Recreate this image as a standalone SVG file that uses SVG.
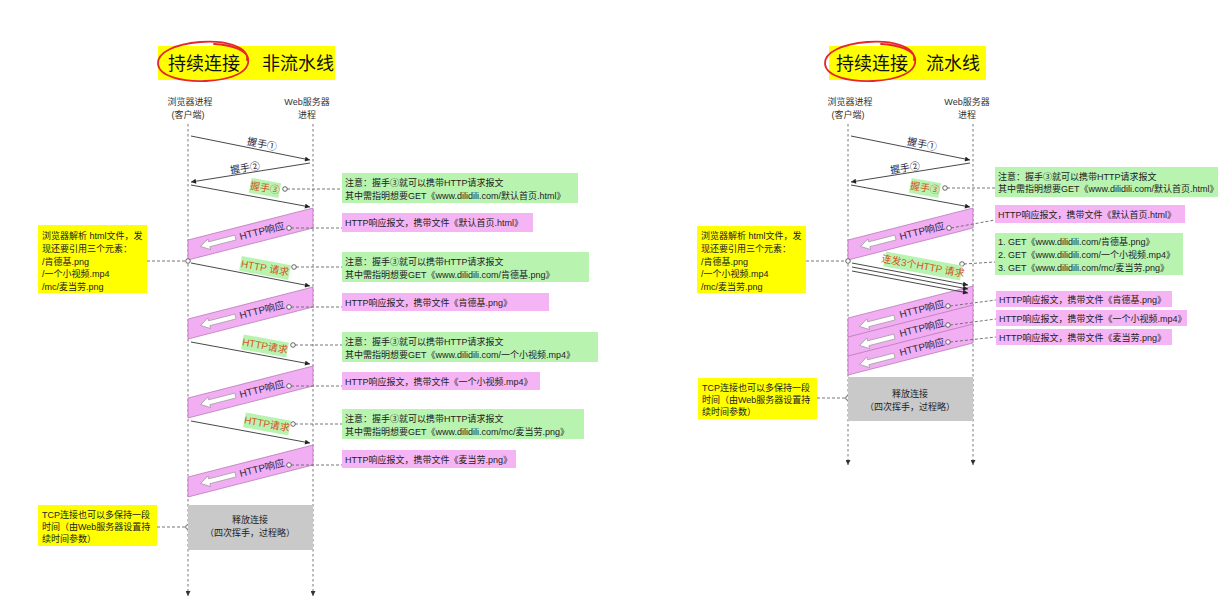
<svg xmlns="http://www.w3.org/2000/svg" width="1218" height="612" viewBox="0 0 1218 612">
<defs>
<style>
.t{font-family:"Liberation Sans","Noto Sans CJK SC",sans-serif;font-size:9px;fill:#222}
.cjk{font-family:"Noto Sans CJK SC",sans-serif}
.title{font-size:18px;fill:#111}
.hdr{font-size:9px;fill:#333;text-anchor:middle}
.lbl{font-size:10px;fill:#2a2a48;text-anchor:middle}
.req{font-size:10px;fill:#d4541c;text-anchor:middle}
.mid{text-anchor:middle}
.life{stroke:#777;stroke-width:1;stroke-dasharray:2.5,2.5;fill:none;marker-end:url(#lah)}
.msg{stroke:#333;stroke-width:0.9;fill:none;marker-end:url(#ah)}
.conn{stroke:#666;stroke-width:0.9;stroke-dasharray:3,2;fill:none}
.dot{fill:#fff;stroke:#555;stroke-width:0.9}
.band{fill:#f2aef2;stroke:#b070b0;stroke-width:0.7}
.gbg{fill:#b8f4b0}
.pbg{fill:#f5b5f5}
.ybg{fill:#ffff00}
.gray{fill:#c9c9c9}
.wa{fill:#fff;stroke:#999;stroke-width:0.7}
.ring{fill:none;stroke:#e5262a;stroke-width:1.8;stroke-linecap:round}
</style>
<marker id="ah" viewBox="0 0 10 10" refX="10" refY="5" markerWidth="7" markerHeight="5" markerUnits="userSpaceOnUse" orient="auto"><path d="M0,0 L10,5 L0,10 Z" fill="#222"/></marker>
<marker id="lah" viewBox="0 0 10 10" refX="10" refY="5" markerWidth="6" markerHeight="5" markerUnits="userSpaceOnUse" orient="auto"><path d="M0,0 L10,5 L0,10 Z" fill="#333"/></marker>
<path id="warrow" d="M-18,0 L-9,-5.5 L-9,-2.5 L18,-2.5 L18,2.5 L-9,2.5 L-9,5.5 Z"/>
</defs>

<!-- ================= LEFT: 持续连接 非流水线 ================= -->
<g id="left-title">
<rect class="ybg" x="158" y="46" width="177" height="34"/>
<text class="t title" x="168" y="70">持续连接</text>
<text class="t title" x="262" y="70">非流水线</text>
<path class="ring" d="M247,60 C249,46 224,40 200,42 C176,44 157,52 158,64 C159,76 181,82 206,81 C229,80 251,73 248,58 C246,50 232,45 214,44"/>
</g>
<g id="left-client-header"><text class="t hdr" x="190" y="105">浏览器进程</text><text class="t hdr" x="188" y="118">(客户端)</text></g>
<g id="left-server-header"><text class="t hdr" x="307" y="105">Web服务器</text><text class="t hdr" x="307" y="118">进程</text></g>

<g id="left-lifelines">
<line class="life" x1="188" y1="124" x2="188" y2="596"/>
<line class="life" x1="313" y1="124" x2="313" y2="596"/>
</g>

<g id="left-bands">
<polygon class="band" points="188,240 313,208 313,228 188,260"/>
<polygon class="band" points="188,319 313,287 313,307 188,339"/>
<polygon class="band" points="188,398 313,366 313,386 188,418"/>
<polygon class="band" points="188,477 313,445 313,465 188,497"/>
<use href="#warrow" class="wa" transform="translate(218,242) rotate(-14.4)"/>
<use href="#warrow" class="wa" transform="translate(218,321) rotate(-14.4)"/>
<use href="#warrow" class="wa" transform="translate(218,400) rotate(-14.4)"/>
<use href="#warrow" class="wa" transform="translate(218,479) rotate(-14.4)"/>
<text class="t lbl" transform="translate(262,231) rotate(-14.4)" dy="3.5">HTTP响应</text>
<text class="t lbl" transform="translate(262,310) rotate(-14.4)" dy="3.5">HTTP响应</text>
<text class="t lbl" transform="translate(262,389) rotate(-14.4)" dy="3.5">HTTP响应</text>
<text class="t lbl" transform="translate(262,468) rotate(-14.4)" dy="3.5">HTTP响应</text>
</g>

<g id="left-connectors">
<line class="msg" x1="191" y1="136" x2="310" y2="160"/>
<line class="msg" x1="310" y1="163" x2="191" y2="182"/>
<line class="msg" x1="191" y1="185" x2="310" y2="207"/>
<line class="msg" x1="191" y1="263" x2="310" y2="286"/>
<line class="msg" x1="191" y1="342" x2="310" y2="364"/>
<line class="msg" x1="191" y1="421" x2="310" y2="443"/>
<line class="conn" x1="147" y1="261" x2="186" y2="261"/>
<line class="conn" x1="157" y1="527" x2="186" y2="527"/>
<line class="conn" x1="287" y1="189" x2="342" y2="189"/>
<line class="conn" x1="291" y1="228" x2="342" y2="228"/>
<line class="conn" x1="296" y1="267" x2="342" y2="267"/>
<line class="conn" x1="291" y1="307" x2="342" y2="307"/>
<line class="conn" x1="295" y1="345" x2="342" y2="345"/>
<line class="conn" x1="291" y1="386" x2="342" y2="386"/>
<line class="conn" x1="295" y1="424" x2="342" y2="424"/>
<line class="conn" x1="291" y1="465" x2="342" y2="465"/>
<circle class="dot" cx="188" cy="261" r="2.3"/>
<circle class="dot" cx="188" cy="527" r="2.3"/>
<circle class="dot" cx="285" cy="189" r="2.3"/>
<circle class="dot" cx="289" cy="228" r="2.3"/>
<circle class="dot" cx="294" cy="267" r="2.3"/>
<circle class="dot" cx="289" cy="307" r="2.3"/>
<circle class="dot" cx="293" cy="345" r="2.3"/>
<circle class="dot" cx="289" cy="386" r="2.3"/>
<circle class="dot" cx="293" cy="424" r="2.3"/>
<circle class="dot" cx="289" cy="465" r="2.3"/>
</g>

<g id="left-msg-labels">
<text class="t lbl cjk" transform="translate(262,144) rotate(11.5)" dy="3.5">握手①</text>
<text class="t lbl cjk" transform="translate(245,168) rotate(-9)" dy="3.5">握手②</text>
<g transform="translate(265,188) rotate(10.5)"><rect class="gbg" x="-15" y="-7.5" width="30" height="15"/><text class="t req cjk" dy="3.5">握手③</text></g>
<g transform="translate(265,268) rotate(10.5)"><rect class="gbg" x="-25" y="-7.5" width="50" height="15"/><text class="t req" dy="3.5">HTTP 请求</text></g>
<g transform="translate(265,346) rotate(10.5)"><rect class="gbg" x="-23" y="-7.5" width="46" height="15"/><text class="t req" dy="3.5">HTTP请求</text></g>
<g transform="translate(267,424) rotate(10.5)"><rect class="gbg" x="-23" y="-7.5" width="46" height="15"/><text class="t req" dy="3.5">HTTP请求</text></g>
</g>

<g id="left-note-parse">
<rect class="ybg" x="38" y="225" width="109" height="68"/>
<text class="t" x="42" y="239">浏览器解析 html文件，发</text>
<text class="t" x="42" y="252">现还要引用三个元素：</text>
<text class="t" x="42" y="265">/肯德基.png</text>
<text class="t" x="42" y="277">/一个小视频.mp4</text>
<text class="t" x="42" y="290">/mc/麦当劳.png</text>
</g>
<g id="left-note-tcp">
<rect class="ybg" x="38" y="505" width="119" height="41"/>
<text class="t" x="42" y="518">TCP连接也可以多保持一段</text>
<text class="t" x="42" y="530">时间（由Web服务器设置持</text>
<text class="t" x="42" y="542">续时间参数）</text>
</g>
<g id="left-release">
<rect class="gray" x="188" y="505" width="125" height="45"/>
<text class="t mid" x="250" y="523">释放连接</text>
<text class="t mid" x="250" y="536">（四次挥手，过程略）</text>
</g>

<g id="left-note1"><rect class="gbg" x="342" y="173" width="236" height="30"/>
<text class="t" x="345" y="186">注意：握手<tspan class="cjk">③</tspan>就可以携带HTTP请求报文</text>
<text class="t" x="345" y="199">其中需指明想要GET《www.dilidili.com/默认首页.html》</text></g>
<g id="left-note2"><rect class="pbg" x="342" y="213" width="191" height="19"/>
<text class="t" x="345" y="226">HTTP响应报文，携带文件《默认首页.html》</text></g>
<g id="left-note3"><rect class="gbg" x="342" y="252" width="247" height="30"/>
<text class="t" x="345" y="265">注意：握手<tspan class="cjk">③</tspan>就可以携带HTTP请求报文</text>
<text class="t" x="345" y="278">其中需指明想要GET《www.dilidili.com/肯德基.png》</text></g>
<g id="left-note4"><rect class="pbg" x="342" y="293" width="207" height="18"/>
<text class="t" x="345" y="305.5">HTTP响应报文，携带文件《肯德基.png》</text></g>
<g id="left-note5"><rect class="gbg" x="342" y="332" width="256" height="30"/>
<text class="t" x="345" y="345">注意：握手<tspan class="cjk">③</tspan>就可以携带HTTP请求报文</text>
<text class="t" x="345" y="358">其中需指明想要GET《www.dilidili.com/一个小视频.mp4》</text></g>
<g id="left-note6"><rect class="pbg" x="342" y="372" width="198" height="18"/>
<text class="t" x="345" y="384.5">HTTP响应报文，携带文件《一个小视频.mp4》</text></g>
<g id="left-note7"><rect class="gbg" x="342" y="409" width="242" height="30"/>
<text class="t" x="345" y="422">注意：握手<tspan class="cjk">③</tspan>就可以携带HTTP请求报文</text>
<text class="t" x="345" y="435">其中需指明想要GET《www.dilidili.com/mc/麦当劳.png》</text></g>
<g id="left-note8"><rect class="pbg" x="342" y="450" width="174" height="18"/>
<text class="t" x="345" y="462.5">HTTP响应报文，携带文件《麦当劳.png》</text></g>

<!-- ================= RIGHT: 持续连接 流水线 ================= -->
<g id="right-title">
<rect class="ybg" x="829" y="46" width="157" height="34"/>
<text class="t title" x="836" y="70">持续连接</text>
<text class="t title" x="926" y="70">流水线</text>
<path class="ring" d="M914,60 C916,46 891,40 867,42 C843,44 824,52 825,64 C826,76 848,82 873,81 C896,80 918,73 915,58 C913,50 899,45 881,44"/>
</g>
<g id="right-client-header"><text class="t hdr" x="850" y="105">浏览器进程</text><text class="t hdr" x="848" y="118">(客户端)</text></g>
<g id="right-server-header"><text class="t hdr" x="967" y="105">Web服务器</text><text class="t hdr" x="967" y="118">进程</text></g>

<g id="right-lifelines">
<line class="life" x1="848" y1="124" x2="848" y2="465"/>
<line class="life" x1="973" y1="124" x2="973" y2="465"/>
</g>

<g id="right-bands">
<polygon class="band" points="848,240 973,208 973,228 848,260"/>
<use href="#warrow" class="wa" transform="translate(878,242) rotate(-14.4)"/>
<text class="t lbl" transform="translate(922,231) rotate(-14.4)" dy="3.5">HTTP响应</text>
<polygon class="band" points="848,318 973,286 973,343 848,375"/>
<line stroke="#b070b0" stroke-width="0.7" x1="848" y1="337" x2="973" y2="305"/>
<line stroke="#b070b0" stroke-width="0.7" x1="848" y1="356" x2="973" y2="324"/>
<use href="#warrow" class="wa" transform="translate(877,322) rotate(-14.4)"/>
<use href="#warrow" class="wa" transform="translate(877,341) rotate(-14.4)"/>
<use href="#warrow" class="wa" transform="translate(877,360) rotate(-14.4)"/>
<text class="t lbl" transform="translate(922,309) rotate(-14.4)" dy="3.5">HTTP响应</text>
<text class="t lbl" transform="translate(922,328) rotate(-14.4)" dy="3.5">HTTP响应</text>
<text class="t lbl" transform="translate(922,347) rotate(-14.4)" dy="3.5">HTTP响应</text>
</g>

<g id="right-connectors">
<line class="msg" x1="851" y1="136" x2="970" y2="160"/>
<line class="msg" x1="970" y1="163" x2="851" y2="182"/>
<line class="msg" x1="851" y1="185" x2="970" y2="207"/>
<line class="msg" x1="852" y1="263" x2="968" y2="285"/>
<line class="msg" x1="852" y1="267" x2="968" y2="289"/>
<line class="msg" x1="852" y1="271" x2="968" y2="293"/>
<line class="conn" x1="806" y1="261" x2="846" y2="261"/>
<line class="conn" x1="817" y1="398" x2="846" y2="398"/>
<line class="conn" x1="947" y1="188" x2="995" y2="188"/>
<line class="conn" x1="951" y1="228" x2="995" y2="220"/>
<line class="conn" x1="964" y1="264" x2="995" y2="262"/>
<line class="conn" x1="950" y1="306" x2="996" y2="300"/>
<line class="conn" x1="950" y1="325" x2="996" y2="319"/>
<line class="conn" x1="950" y1="342" x2="996" y2="337"/>
<circle class="dot" cx="848" cy="261" r="2.3"/>
<circle class="dot" cx="848" cy="398" r="2.3"/>
<circle class="dot" cx="945" cy="188" r="2.3"/>
<circle class="dot" cx="949" cy="228" r="2.3"/>
<circle class="dot" cx="962" cy="264" r="2.3"/>
<circle class="dot" cx="948" cy="306" r="2.3"/>
<circle class="dot" cx="948" cy="325" r="2.3"/>
<circle class="dot" cx="948" cy="342" r="2.3"/>
</g>

<g id="right-msg-labels">
<text class="t lbl cjk" transform="translate(922,144) rotate(11.5)" dy="3.5">握手①</text>
<text class="t lbl cjk" transform="translate(905,168) rotate(-9)" dy="3.5">握手②</text>
<g transform="translate(925,188) rotate(10.5)"><rect class="gbg" x="-15" y="-7.5" width="30" height="15"/><text class="t req cjk" dy="3.5">握手③</text></g>
<g transform="translate(923,266) rotate(10.5)"><rect class="gbg" x="-39" y="-7.5" width="78" height="15"/><text class="t req" dy="3.5">连发3个HTTP 请求</text></g>
</g>

<g id="right-note-parse">
<rect class="ybg" x="697" y="226" width="109" height="67"/>
<text class="t" x="701" y="239">浏览器解析 html文件，发</text>
<text class="t" x="701" y="252">现还要引用三个元素：</text>
<text class="t" x="701" y="265">/肯德基.png</text>
<text class="t" x="701" y="277">/一个小视频.mp4</text>
<text class="t" x="701" y="290">/mc/麦当劳.png</text>
</g>
<g id="right-note-tcp">
<rect class="ybg" x="698" y="378" width="119" height="41"/>
<text class="t" x="702" y="391">TCP连接也可以多保持一段</text>
<text class="t" x="702" y="403">时间（由Web服务器设置持</text>
<text class="t" x="702" y="415">续时间参数）</text>
</g>
<g id="right-release">
<rect class="gray" x="848" y="377" width="125" height="44"/>
<text class="t mid" x="910" y="397">释放连接</text>
<text class="t mid" x="910" y="410">（四次挥手，过程略）</text>
</g>

<g id="right-note1"><rect class="gbg" x="995" y="167" width="236" height="30"/>
<text class="t" x="998" y="179.5">注意：握手<tspan class="cjk">③</tspan>就可以携带HTTP请求报文</text>
<text class="t" x="998" y="192">其中需指明想要GET《www.dilidili.com/默认首页.html》</text></g>
<g id="right-note2"><rect class="pbg" x="995" y="205" width="190" height="18"/>
<text class="t" x="998" y="217.5">HTTP响应报文，携带文件《默认首页.html》</text></g>
<g id="right-note3"><rect class="gbg" x="995" y="233" width="188" height="42"/>
<text class="t" x="998" y="245">1. GET《www.dilidili.com/肯德基.png》</text>
<text class="t" x="998" y="258">2. GET《www.dilidili.com/一个小视频.mp4》</text>
<text class="t" x="998" y="271">3. GET《www.dilidili.com/mc/麦当劳.png》</text></g>
<g id="right-note4"><rect class="pbg" x="996" y="291" width="176" height="16"/>
<text class="t" x="999" y="302.5">HTTP响应报文，携带文件《肯德基.png》</text></g>
<g id="right-note5"><rect class="pbg" x="996" y="310" width="191" height="16"/>
<text class="t" x="999" y="321.5">HTTP响应报文，携带文件《一个小视频.mp4》</text></g>
<g id="right-note6"><rect class="pbg" x="996" y="329" width="176" height="16"/>
<text class="t" x="999" y="340.5">HTTP响应报文，携带文件《麦当劳.png》</text></g>
</svg>
